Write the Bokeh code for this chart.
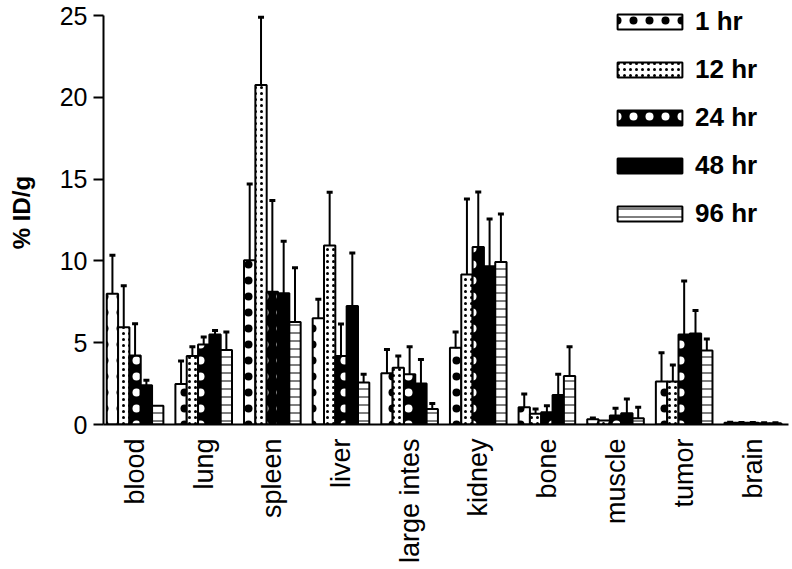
import math
from bokeh.plotting import figure
from bokeh.models import Range1d, FixedTicker, Legend, LegendItem, ColumnDataSource
from bokeh.embed import file_html
from bokeh.resources import INLINE

organs = ["blood", "lung", "spleen", "liver", "large intes", "kidney", "bone", "muscle", "tumor", "brain"]
times = ["1 hr", "12 hr", "24 hr", "48 hr", "96 hr"]

v_1hr = [8.0, 2.47, 10.04, 6.5, 3.13, 4.69, 1.05, 0.32, 2.63, 0.10]
e_1hr = [2.35, 1.41, 4.66, 1.15, 1.46, 0.97, 0.81, 0.08, 1.75, 0.03]
v_12hr = [5.94, 4.18, 20.75, 10.95, 3.47, 9.17, 0.65, 0.24, 2.63, 0.10]
e_12hr = [2.54, 0.57, 4.15, 3.25, 0.71, 4.61, 0.30, 0.0, 1.01, 0.02]
v_24hr = [4.22, 4.89, 8.12, 4.18, 3.07, 10.85, 0.75, 0.55, 5.50, 0.10]
e_24hr = [1.94, 0.46, 5.58, 1.96, 1.68, 3.37, 0.40, 0.44, 3.27, 0.02]
v_48hr = [2.40, 5.50, 8.02, 7.25, 2.50, 9.68, 1.80, 0.69, 5.56, 0.08]
e_48hr = [0.30, 0.24, 3.18, 3.23, 1.48, 2.88, 1.27, 0.87, 1.41, 0.02]
v_96hr = [1.15, 4.55, 6.26, 2.57, 0.95, 9.94, 2.97, 0.38, 4.53, 0.08]
e_96hr = [0.0, 1.11, 3.32, 0.50, 0.34, 2.93, 1.78, 0.67, 0.70, 0.02]

y_ticks = [0, 5, 10, 15, 20, 25]

values = [v_1hr, v_12hr, v_24hr, v_48hr, v_96hr]
errors = [e_1hr, e_12hr, e_24hr, e_48hr, e_96hr]

styles = [
    dict(fill_color="white", hatch_pattern="dot", hatch_color="black", hatch_scale=16, hatch_weight=1.5),
    dict(fill_color="white", hatch_pattern="dot", hatch_color="black", hatch_scale=6, hatch_weight=2.5),
    dict(fill_color="black", hatch_pattern="dot", hatch_color="white", hatch_scale=16, hatch_weight=5),
    dict(fill_color="black"),
    dict(fill_color="white", hatch_pattern="horizontal_line", hatch_color="black", hatch_scale=8, hatch_weight=1),
]

FONT = "Liberation Sans"
bar_w = 0.165

p = figure(width=792, height=569, output_backend="svg", toolbar_location=None,
           x_range=Range1d(-0.46, 9.52), y_range=Range1d(0, 25.92),
           min_border_left=103, min_border_right=4, min_border_top=0, min_border_bottom=145)
p.outline_line_color = None
p.xgrid.visible = False
p.ygrid.visible = False
p.background_fill_color = "white"

items = []
for k, (vals, errs, st) in enumerate(zip(values, errors, styles)):
    xs = [i + (k - 2) * bar_w for i in range(len(organs))]
    src = ColumnDataSource(dict(x=xs, top=vals))
    r = p.vbar(x="x", top="top", width=bar_w, bottom=0, source=src,
               line_color="black", line_width=2, **st)
    items.append(LegendItem(label=times[k], renderers=[r]))
    ex = [x for x, e in zip(xs, errs) if e > 0]
    ey0 = [v for v, e in zip(vals, errs) if e > 0]
    ey1 = [v + e for v, e in zip(vals, errs) if e > 0]
    p.segment(x0=ex, y0=ey0, x1=ex, y1=ey1, line_color="black", line_width=2)
    p.scatter(x=ex, y=ey1, marker="dash", size=6, line_color="black", line_width=3)

legend = Legend(items=items, location=(506, 195), orientation="vertical",
                border_line_color=None, background_fill_alpha=0, padding=0, margin=0,
                glyph_width=81, glyph_height=19, label_standoff=5, spacing=17,
                label_text_font=FONT, label_text_font_size="26px", label_text_font_style="bold",
                label_text_color="black")
p.add_layout(legend, "center")

p.yaxis.ticker = FixedTicker(ticks=y_ticks)
p.yaxis.bounds = (0, 25)
p.yaxis.axis_label = "% ID/g"
p.yaxis.axis_label_text_font = FONT
p.yaxis.axis_label_text_font_size = "24px"
p.yaxis.axis_label_text_font_style = "bold"
p.yaxis.axis_label_text_color = "black"
p.yaxis.axis_label_standoff = 22
p.yaxis.major_label_text_font = FONT
p.yaxis.major_label_text_font_size = "25px"
p.yaxis.major_label_text_color = "black"
p.yaxis.major_label_standoff = 6
p.yaxis.major_tick_out = 10
p.yaxis.major_tick_in = 0
p.yaxis.minor_tick_line_color = None
p.yaxis.axis_line_width = 2
p.yaxis.major_tick_line_width = 2
p.yaxis.axis_line_color = "black"

p.xaxis.ticker = FixedTicker(ticks=list(range(len(organs))))
p.xaxis.major_label_overrides = {i: name for i, name in enumerate(organs)}
p.xaxis.major_label_orientation = math.pi / 2
p.xaxis.major_label_text_font = FONT
p.xaxis.major_label_text_font_size = "27px"
p.xaxis.major_label_text_color = "black"
p.xaxis.major_label_standoff = 14
p.xaxis.major_tick_out = 0
p.xaxis.major_tick_in = 0
p.xaxis.minor_tick_line_color = None
p.xaxis.axis_line_width = 2
p.xaxis.axis_line_color = "black"

open("out.html", "w").write(file_html(p, INLINE))
